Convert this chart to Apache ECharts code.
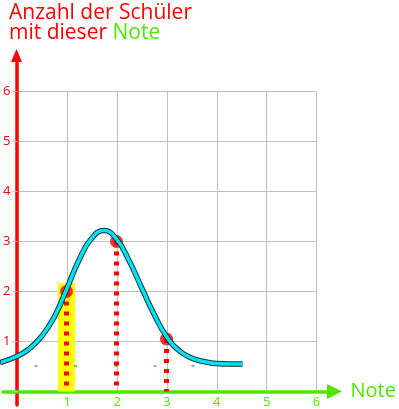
<!DOCTYPE html>
<html><head><meta charset="utf-8">
<script src="https://cdn.jsdelivr.net/npm/echarts@6/dist/echarts.min.js"></script>
<style>html,body{margin:0;padding:0;background:#fff}#c{width:399px;height:409px}</style>
</head><body><div id="c"></div>
<script>
// ---- data ----
const tickValues = [1, 2, 3, 4, 5, 6];
const curveX = [-0.33, 0, 0.25, 0.5, 0.75, 1, 1.25, 1.5, 1.75, 2, 2.25, 2.5, 2.75, 3, 3.25, 3.5, 3.75, 4, 4.25, 4.52];
const curveY = [0.58, 0.70, 0.85, 1.10, 1.48, 2.04, 2.63, 3.06, 3.22, 3.05, 2.62, 2.08, 1.55, 1.10, 0.82, 0.67, 0.60, 0.56, 0.55, 0.55];
const dotX = [1, 2, 3];
const dotY = [2, 3, 1.05];
const barX = [1];
const barY = [2.17];
const markX = [0.39, 1.18, 1.99, 2.77, 3.53, 4.31];
const markY = [0.51, 0.51, 0.51, 0.51, 0.51, 0.51];

const RED = '#ff0000', GREEN = '#50e600', GRIDC = '#c0c0c0';
const FONT = '"Open Sans", "DejaVu Sans", sans-serif';

const chart = echarts.init(document.getElementById('c'), null, {renderer: 'canvas'});

const zip = (xs, ys) => xs.map((x, i) => [x, ys[i]]);
const dropSeries = dotX.map((x, i) => ({
  type: 'line', xAxisIndex: 1, yAxisIndex: 1, clip: false, silent: true,
  symbol: 'none', z: 3,
  data: [[x, dotY[i]], [x, 0]],
  lineStyle: {color: RED, width: 5, type: [4, 6], cap: 'butt'}
}));

chart.setOption({
  animation: false,
  title: {
    left: 9, top: 3, padding: 0,
    text: '{r|Anzahl der Schüler}\n{r|mit dieser} {g|Note}',
    textStyle: {
      fontFamily: FONT, fontSize: 21, fontWeight: 'normal', lineHeight: 20,
      rich: {
        r: {color: RED, fontFamily: FONT, fontSize: 21, lineHeight: 20},
        g: {color: GREEN, fontFamily: FONT, fontSize: 21, lineHeight: 20}
      }
    }
  },
  grid: [
    {left: 16.5, top: 91.5, width: 300, height: 300},
    {left: 3, top: 55.5, width: 331.5, height: 349.5}
  ],
  xAxis: [
    {type: 'value', gridIndex: 0, min: 0, max: 6, interval: 1,
     axisLine: {show: false}, axisTick: {show: false},
     splitLine: {show: true, lineStyle: {color: GRIDC, width: 1}},
     axisLabel: {color: GREEN, fontFamily: FONT, fontSize: 13, margin: 5,
       formatter: v => tickValues.includes(v) ? String(v) : ''}},
    {type: 'value', gridIndex: 1, min: -0.27, max: 6.36,
     axisLine: {show: true, onZero: true, symbol: ['none', 'triangle'], symbolSize: [15, 15],
       lineStyle: {color: GREEN, width: 3.5}},
     axisTick: {show: false}, axisLabel: {show: false}, splitLine: {show: false},
     name: 'Note', nameLocation: 'end', nameGap: 16,
     nameTextStyle: {color: GREEN, fontFamily: FONT, fontSize: 20, padding: [0, 0, 4, 0]}}
  ],
  yAxis: [
    {type: 'value', gridIndex: 0, min: 0, max: 6, interval: 1,
     axisLine: {show: false},
     axisTick: {show: true, length: 5, lineStyle: {color: GRIDC}},
     splitLine: {show: true, lineStyle: {color: GRIDC, width: 1}},
     axisLabel: {color: RED, fontFamily: FONT, fontSize: 13, margin: 7,
       formatter: v => tickValues.includes(v) ? String(v) : ''}},
    {type: 'value', gridIndex: 1, min: -0.27, max: 6.72,
     axisLine: {show: true, onZero: true, symbol: ['none', 'triangle'], symbolSize: [11, 13],
       lineStyle: {color: RED, width: 3.5}},
     axisTick: {show: false}, axisLabel: {show: false}, splitLine: {show: false}}
  ],
  series: [
    {type: 'bar', xAxisIndex: 1, yAxisIndex: 1, data: zip(barX, barY), barWidth: 17,
     itemStyle: {color: '#ffff00'}, z: 2, silent: true},
    ...dropSeries,
    {type: 'scatter', xAxisIndex: 1, yAxisIndex: 1, data: zip(markX, markY),
     symbol: 'rect', symbolSize: [3, 1.5], itemStyle: {color: '#3a9a2a'}, z: 2, silent: true},
    {type: 'scatter', xAxisIndex: 1, yAxisIndex: 1, data: zip(dotX, dotY),
     symbol: 'circle', symbolSize: 13, itemStyle: {color: '#ee0000'}, z: 4, silent: true},
    {type: 'line', xAxisIndex: 1, yAxisIndex: 1, data: zip(curveX, curveY), clip: false,
     smooth: 0.5, symbol: 'none', z: 5, silent: true,
     lineStyle: {color: '#0d3b40', width: 5.5}},
    {type: 'line', xAxisIndex: 1, yAxisIndex: 1, data: zip(curveX, curveY), clip: false,
     smooth: 0.5, symbol: 'none', z: 6, silent: true,
     lineStyle: {color: '#00e0ee', width: 3.5}}
  ]
});
</script>
</body></html>
